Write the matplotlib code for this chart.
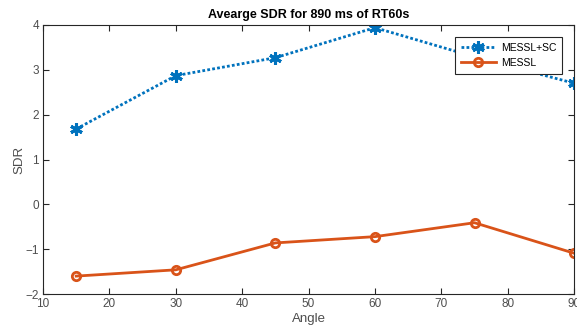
import numpy as np
import matplotlib
matplotlib.use('Agg')
import matplotlib.pyplot as plt

plt.rcParams['font.family'] = ['Liberation Sans', 'DejaVu Sans']

# veriler
aci = [15, 30, 45, 60, 75, 90]
messl_sc = [1.68, 2.87, 3.27, 3.94, 3.29, 2.70]
messl = [-1.60, -1.46, -0.86, -0.72, -0.41, -1.09]
x_ticks = [10, 20, 30, 40, 50, 60, 70, 80, 90]
y_ticks = [-2, -1, 0, 1, 2, 3, 4]

mavi = '#0072BD'
turuncu = '#D95319'
gri = '#262626'

fig = plt.figure(figsize=(5.77, 3.33), dpi=100)
ax = fig.add_axes([0.0745, 0.117, 0.9205, 0.808])

ax.plot(aci, messl_sc, color=mavi, linewidth=2, linestyle=(0, (1, 0.8)),
        marker=(6, 2, 0), markersize=9, markeredgewidth=2.2, label='MESSL+SC')
ax.plot(aci, messl, '-', color=turuncu, linewidth=2, marker='o',
        markersize=6, markerfacecolor='none', markeredgewidth=2, label='MESSL')

ax.set_xlim(10, 90)
ax.set_ylim(-2, 4)
ax.set_xticks(x_ticks)
ax.set_yticks(y_ticks)
ax.tick_params(direction='in', top=True, right=True, length=4,
               labelsize=8.5, colors=gri, labelcolor='#4d4d4d', pad=3)
for s in ax.spines.values():
    s.set_color(gri)
    s.set_linewidth(0.8)

ax.set_xlabel('Angle', fontsize=9.5, color='#4d4d4d', labelpad=2)
ax.set_ylabel('SDR', fontsize=9.5, color='#4d4d4d', labelpad=0)
ax.set_title('Avearge SDR for 890 ms of RT60s', fontsize=9, fontweight='bold',
             pad=5)

leg = ax.legend(loc='upper right', bbox_to_anchor=(0.978, 0.955), fontsize=7.5,
                fancybox=False, framealpha=1, edgecolor=gri, borderaxespad=0,
                handlelength=3.4, handletextpad=0.5, borderpad=0.55,
                labelspacing=0.5)
leg.get_frame().set_linewidth(0.8)

fig.savefig('out.png', dpi=100)
